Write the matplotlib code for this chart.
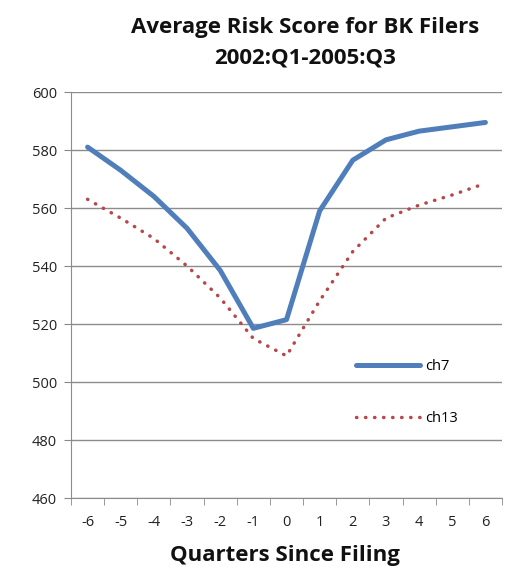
import matplotlib.pyplot as plt
from matplotlib.ticker import MultipleLocator, FixedLocator

quarters = [-6, -5, -4, -3, -2, -1, 0, 1, 2, 3, 4, 5, 6]
ch7 = [581, 573, 564, 553, 538.5, 518.5, 521.5, 559, 576.5, 583.5, 586.5, 588, 589.5]
ch13 = [563, 556.5, 549.5, 540, 529, 515, 509, 528, 545, 556.5, 561, 564.5, 568.5]

plt.rcParams['font.family'] = ['Open Sans', 'DejaVu Sans']
plt.rcParams['axes.unicode_minus'] = False

fig = plt.figure(figsize=(5.15, 5.71), dpi=100)
ax = fig.add_axes([71/515, (571-498)/571, (502-71)/515, (498-92)/571])

ax.plot(quarters, ch7, color='#4F7EBB', linewidth=3.6, solid_capstyle='round', label='ch7')
ax.plot(quarters, ch13, color='#B6474A', linewidth=2.5, linestyle=(0, (0.1, 2.5)),
        dash_capstyle='round', label='ch13')

ax.set_ylim(460, 600)
ax.set_xlim(-6.5, 6.5)
ax.yaxis.set_major_locator(MultipleLocator(20))
ax.set_xticks(quarters)
ax.xaxis.set_minor_locator(FixedLocator([q + 0.5 for q in [-7] + quarters]))
ax.tick_params(axis='x', which='major', length=0, pad=12, labelsize=10.5, colors='#222222')
ax.tick_params(axis='x', which='minor', length=5, color='#888888')
ax.tick_params(axis='y', length=5, color='#888888', labelsize=10.5, colors='#222222', pad=5)
for lab in ax.get_yticklabels():
    lab.set_color('#222222')

ax.grid(axis='y', color='#8c8c8c', linewidth=1)
ax.set_axisbelow(True)
for s in ['top', 'right']:
    ax.spines[s].set_visible(False)
ax.spines['left'].set_color('#8c8c8c')
ax.spines['bottom'].set_color('#8c8c8c')

ax.legend(loc='center left', bbox_to_anchor=(0.645, 0.26), frameon=False, fontsize=10.5,
          handlelength=4.4, handletextpad=0.3, labelspacing=2.5, borderpad=0)

fig.text(0.592, 0.951, 'Average Risk Score for BK Filers', ha='center', va='center',
         fontsize=16, fontweight='bold', color='#111111')
fig.text(0.592, 0.899, '2002:Q1-2005:Q3', ha='center', va='center',
         fontsize=16, fontweight='bold', color='#111111')
fig.text(0.553, 0.028, 'Quarters Since Filing', ha='center', va='center',
         fontsize=16, fontweight='bold', color='#111111')

fig.savefig('out.png', dpi=100)
